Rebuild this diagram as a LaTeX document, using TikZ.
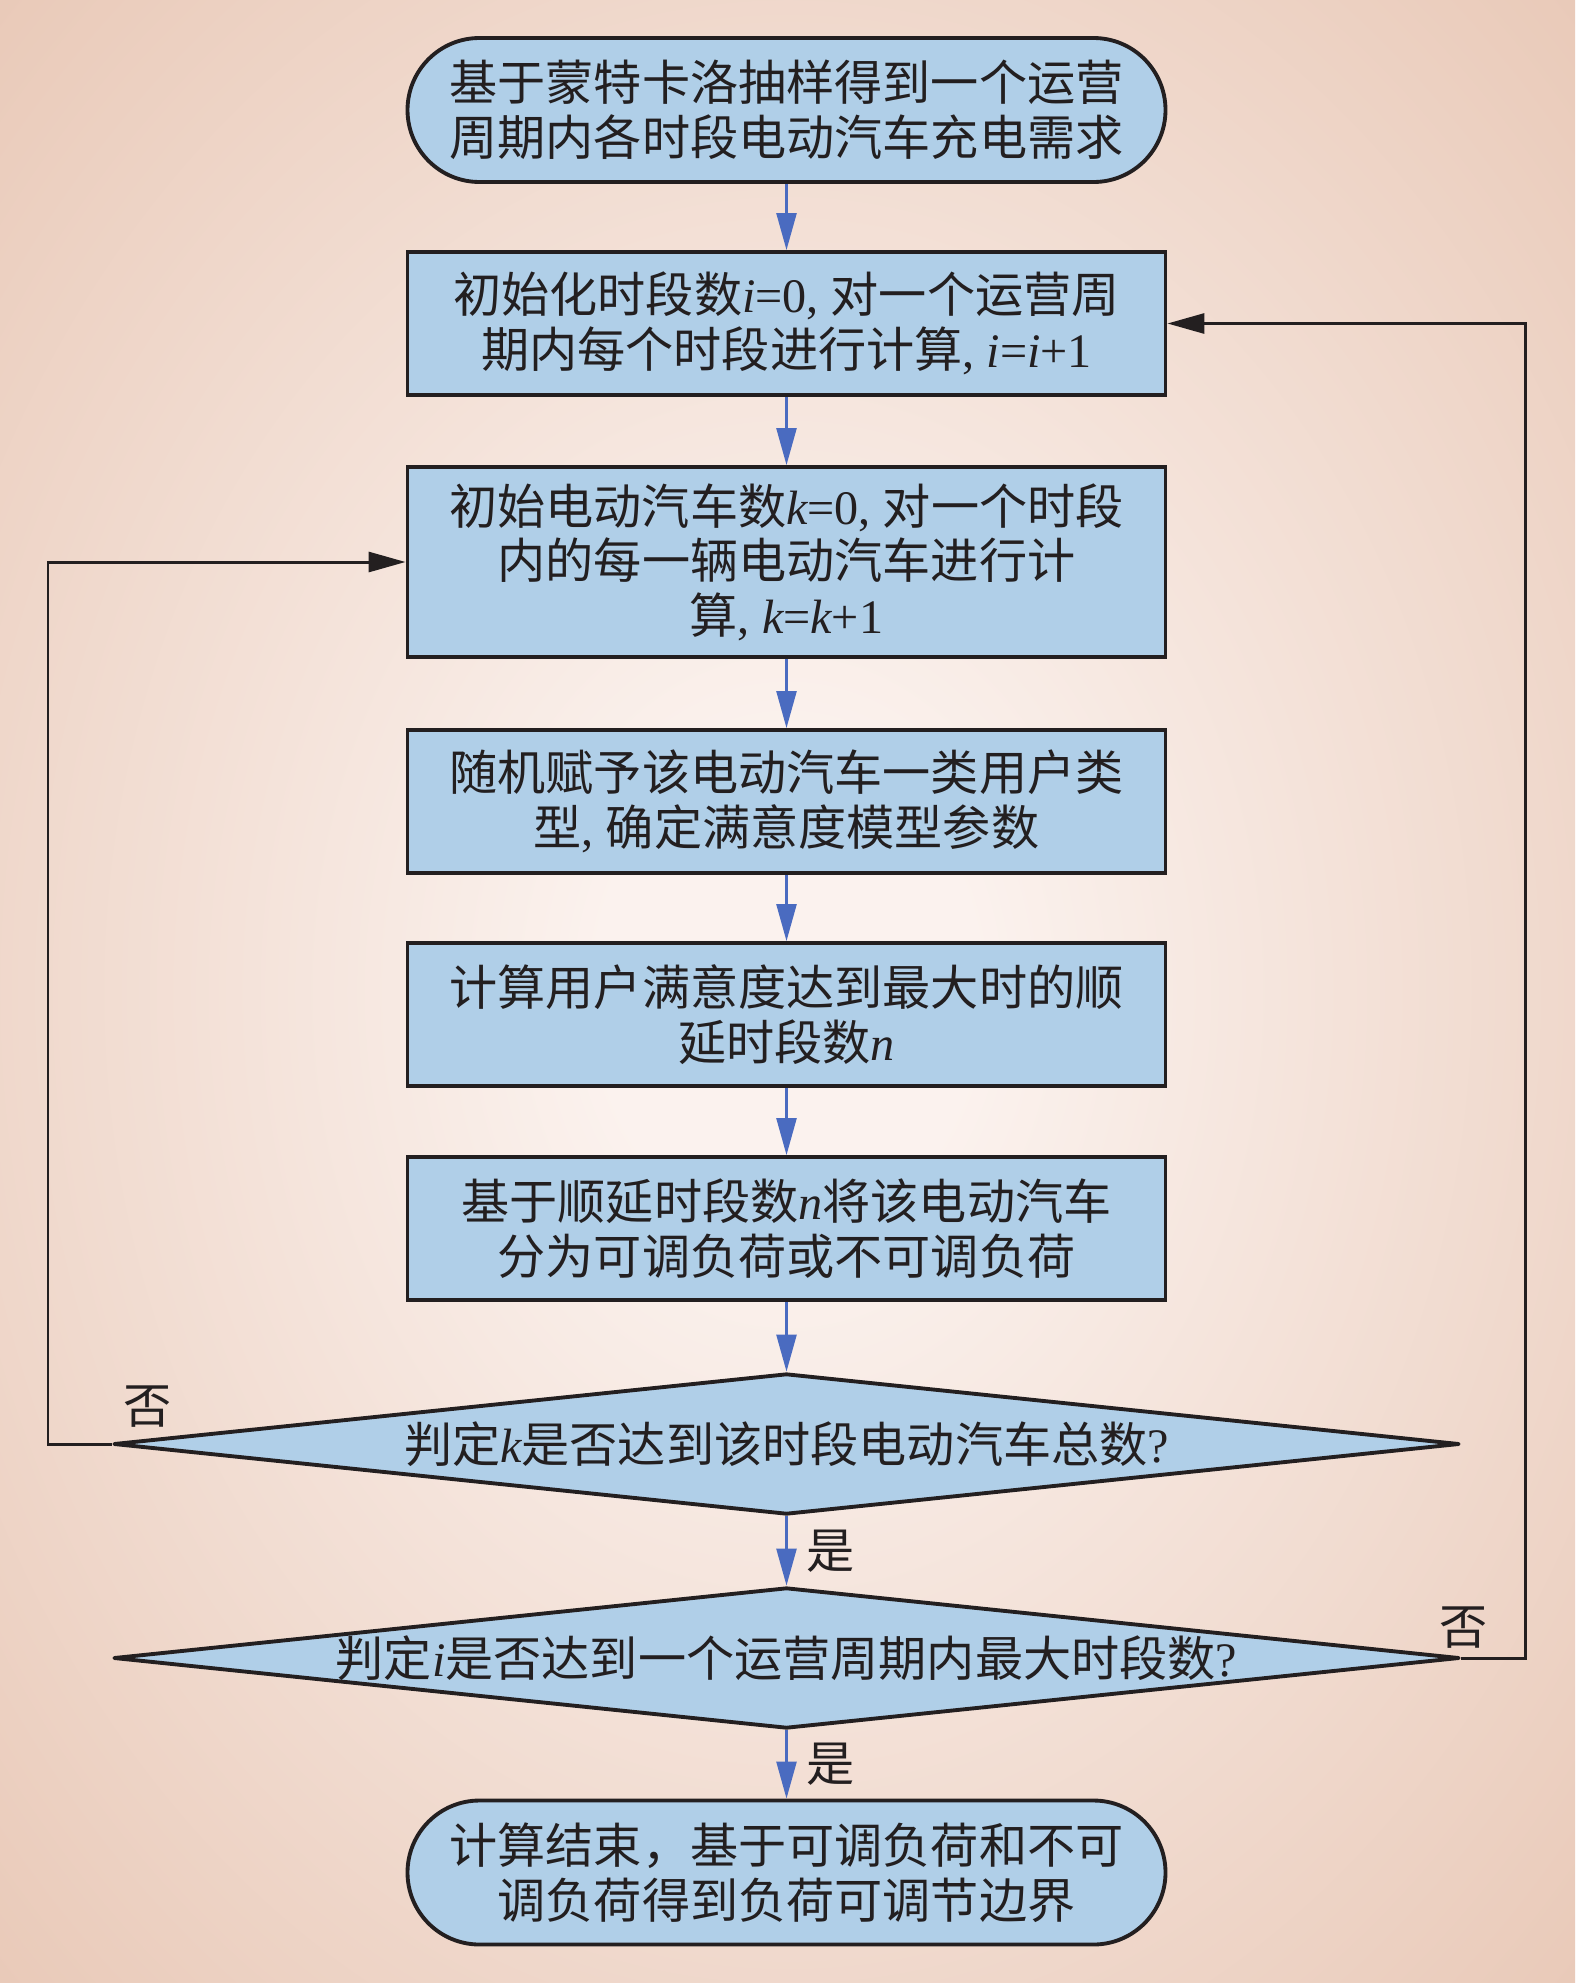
\documentclass[tikz,border=0pt]{standalone}
\usepackage{fontspec}
\setmainfont{Noto Sans CJK SC}
\newfontfamily\latf{Liberation Serif}
\usetikzlibrary{shapes.geometric,arrows.meta,positioning}
\newcommand{\mv}[1]{{\latf\itshape #1}}
\newcommand{\nm}[1]{{\latf #1}}
\definecolor{boxblue}{HTML}{B0CFE8}
\definecolor{flowblue}{HTML}{4A6BC0}
\definecolor{inkline}{HTML}{231F20}
\definecolor{bgedge}{HTML}{E4BEA9}
\definecolor{bgmid}{HTML}{FBF2EE}
\pgfdeclareradialshading{bgglow}{\pgfpoint{0bp}{0bp}}{color(0bp)=(bgmid); color(6bp)=(bgmid); color(44bp)=(bgedge); color(75bp)=(bgedge)}

\begin{document}
\begin{tikzpicture}[font=\fontsize{13.7}{15.5}\selectfont, text=inkline,
    bnode/.style={draw=inkline, fill=boxblue, line width=1.1pt, minimum width=7.58cm, minimum height=1.43cm, align=center, inner sep=2pt},
    tnode/.style={bnode, rounded corners=0.72cm, minimum height=1.44cm},
    dnode/.style={diamond, aspect=9.5, draw=inkline, fill=boxblue, line width=1.1pt, line join=round, minimum width=13.46cm, minimum height=1.41cm, inner sep=0pt},
    flow/.style={draw=flowblue, line width=0.7pt, -{Triangle[length=3.7mm,width=2mm]}},
    back/.style={draw=inkline, line width=0.85pt, -{Triangle[length=3.7mm,width=2mm]}},
    lbl/.style={inner sep=0pt}]
    \shade[shading=bgglow] (0,0) rectangle (15.75,-19.83);

    \node[tnode] (t1) at (7.865,-1.10) {基于蒙特卡洛抽样得到一个运营\\周期内各时段电动汽车充电需求};
    \node[bnode] (b1) at (7.865,-3.235) {初始化时段数\mv{i}\nm{=0, }对一个运营周\\期内每个时段进行计算\nm{, }\mv{i}\nm{=}\mv{i}\nm{+1}};
    \node[bnode, minimum height=1.90cm] (b2) at (7.865,-5.62) {初始电动汽车数\mv{k}\nm{=0, }对一个时段\\内的每一辆电动汽车进行计\\算\nm{, }\mv{k}\nm{=}\mv{k}\nm{+1}};
    \node[bnode] (b3) at (7.865,-8.015) {随机赋予该电动汽车一类用户类\\型\nm{, }确定满意度模型参数};
    \node[bnode] (b4) at (7.865,-10.145) {计算用户满意度达到最大时的顺\\延时段数\mv{n}};
    \node[bnode] (b5) at (7.865,-12.285) {基于顺延时段数\mv{n}将该电动汽车\\分为可调负荷或不可调负荷};
    \node[dnode] (d1) at (7.865,-14.44) {\makebox[0pt]{判定\mv{k}是否达到该时段电动汽车总数\nm{?}}};
    \node[dnode] (d2) at (7.865,-16.58) {\makebox[0pt]{判定\mv{i}是否达到一个运营周期内最大时段数\nm{?}}};
    \node[tnode] (t2) at (7.865,-18.725) {计算结束，基于可调负荷和不可\\调负荷得到负荷可调节边界};

    \draw[flow] (t1) -- (b1);
    \draw[flow] (b1) -- (b2);
    \draw[flow] (b2) -- (b3);
    \draw[flow] (b3) -- (b4);
    \draw[flow] (b4) -- (b5);
    \draw[flow] (b5) -- (d1);
    \draw[flow] (d1) -- node[lbl, right=1.9mm] {是} (d2);
    \draw[flow] (d2) -- node[lbl, right=1.9mm] {是} (t2);

    % loops back
    \coordinate (lft) at (0.48,-5.62);
    \coordinate (rgt) at (15.25,-3.235);
    \draw[back] (d1.west) -| (lft) -- (b2.west);
    \draw[back] (d2.east) -| (rgt) -- (b1.east);
    \node[lbl] (no1) at (1.48,-14.07) {否};
    \node[lbl] (no2) at (14.64,-16.28) {否};
\end{tikzpicture}
\end{document}
